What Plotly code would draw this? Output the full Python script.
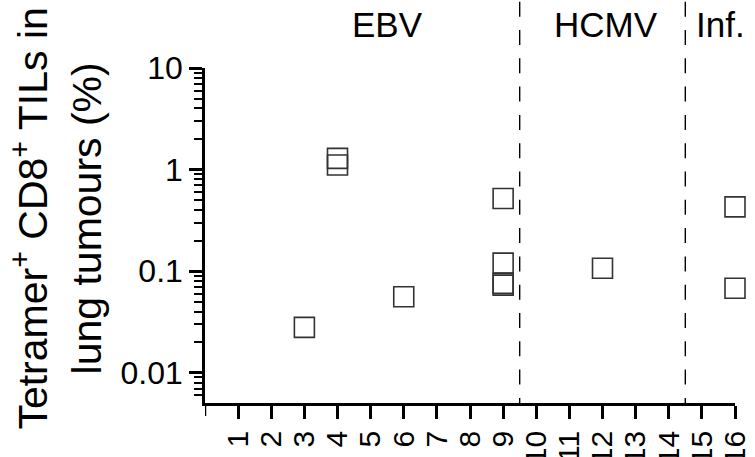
import plotly.graph_objects as go

# Data
patients = [3, 4, 4, 6, 9, 9, 9, 9, 12, 16, 16]
values = [0.028, 1.29, 1.11, 0.056, 0.52, 0.12, 0.076, 0.073, 0.107, 0.43, 0.068]
x_tick_vals = list(range(1, 17))
x_tick_text = [str(i) for i in range(1, 17)]
y_tick_vals = [0.01, 0.1, 1, 10]
y_tick_text = ["0.01", "0.1", "1", "10"]
group_labels = ["EBV", "HCMV", "Inf."]
group_label_x = [5.5, 12.1, 15.55]
group_boundaries = [9.5, 14.5]

W, H = 755, 457
ml, mr, mt, mb = 205, 20.4, 68.3, 53.7
pw = W - ml - mr
ph = H - mt - mb

def py(pix):
    return (H - mb - pix) / ph

def px(pix):
    return (pix - ml) / pw

font_family = "Liberation Sans, Arial, Helvetica, sans-serif"

fig = go.Figure()
fig.add_trace(go.Scatter(
    x=patients, y=values, mode="markers",
    marker=dict(symbol="square-open", size=20, color="#333333",
                line=dict(width=1.6, color="#333333")),
    cliponaxis=False, showlegend=False, hoverinfo="x+y",
))

for b in group_boundaries:
    fig.add_shape(type="line", xref="x", yref="paper", x0=b, x1=b,
                  y0=py(2), y1=0,
                  line=dict(color="black", width=1.4, dash="15px,13.3px"))

# tick at the left end of the x axis (axis origin)
fig.add_shape(type="line", xref="x", yref="paper", x0=0, x1=0,
              y0=0, y1=-13 / ph, line=dict(color="black", width=2.5))

for lab, gx in zip(group_labels, group_label_x):
    fig.add_annotation(text=lab, x=gx, xref="x", y=py(25), yref="paper",
                       showarrow=False, xanchor="center", yanchor="middle",
                       font=dict(size=35, color="black", family=font_family))

fig.add_annotation(
    text="Tetramer<sup>+</sup> CD8<sup>+</sup> TILs in<br>lung tumours (%)",
    x=px(57), xref="paper", y=py(219), yref="paper", textangle=-90,
    showarrow=False, xanchor="center", yanchor="middle",
    font=dict(size=41, color="black", family=font_family))

fig.update_layout(
    width=W, height=H,
    margin=dict(l=ml, r=mr, t=mt, b=mb, pad=0),
    paper_bgcolor="white", plot_bgcolor="white",
    font=dict(family=font_family, color="black"),
)
fig.update_xaxes(
    range=[0, 16], tickmode="array", tickvals=x_tick_vals, ticktext=x_tick_text,
    tickangle=-90, ticks="outside", ticklen=13, tickwidth=2.5, tickcolor="black",
    showline=True, linewidth=2.5, linecolor="black", showgrid=False, zeroline=False,
    tickfont=dict(size=30, color="black", family=font_family), automargin=False,
)
fig.update_yaxes(
    type="log", range=[-2.297, 1], tickmode="array",
    tickvals=y_tick_vals, ticktext=y_tick_text,
    ticks="outside", ticklen=13, tickwidth=2.5, tickcolor="black",
    minor=dict(ticks="outside", ticklen=8, tickwidth=1.8, tickcolor="black",
               tickvals=[m * 10 ** e for e in range(-3, 1) for m in range(2, 10)]),
    showline=True, linewidth=2.5, linecolor="black", showgrid=False, zeroline=False,
    tickfont=dict(size=32, color="black", family=font_family), automargin=False,
)

fig.write_html("out.html")
